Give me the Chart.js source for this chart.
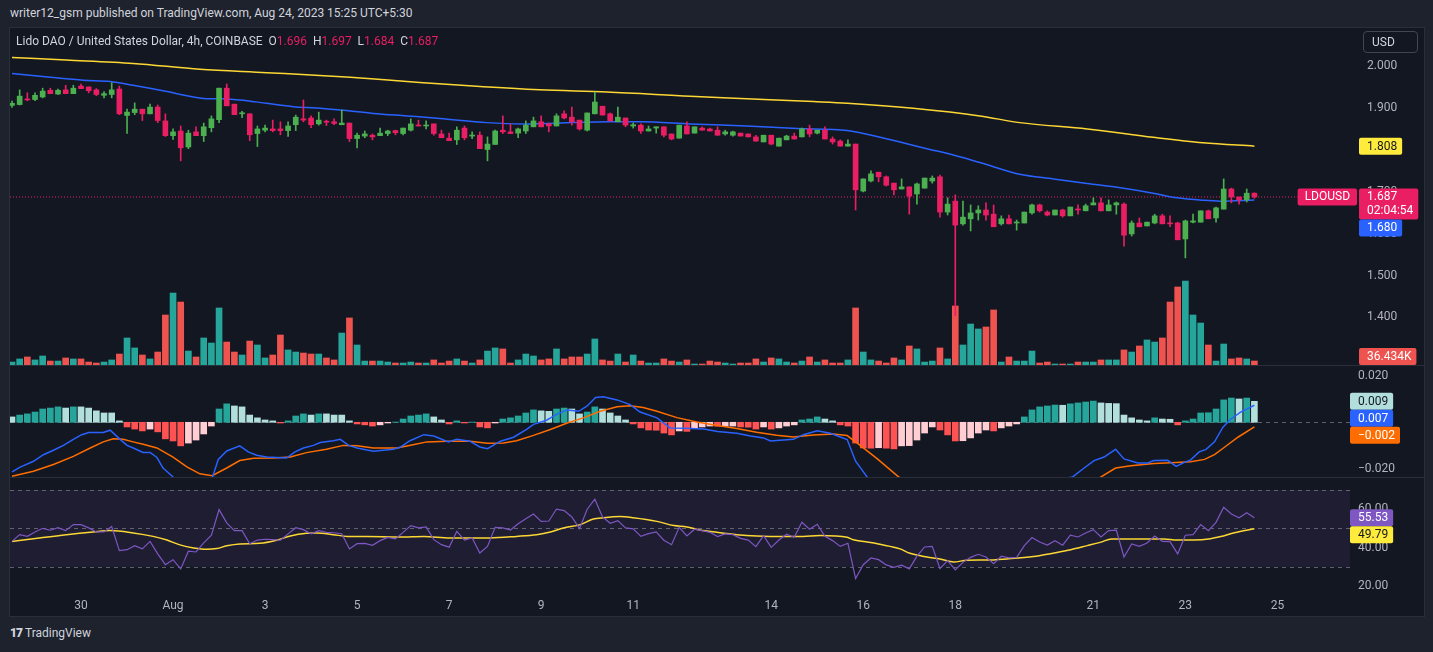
<!DOCTYPE html>
<html>
<head>
<meta charset="utf-8">
<title>LDOUSD 4h - TradingView</title>
<script src="https://cdn.jsdelivr.net/npm/chart.js@4.4.1/dist/chart.umd.min.js"></script>
<style>
    html, body { margin: 0; padding: 0; }
    body {
        width: 1433px; height: 652px; overflow: hidden; position: relative;
        background: #1e222d; color: #d1d4dc;
        font-family: Roboto, "Liberation Sans", sans-serif;
    }
    .published { position: absolute; left: 10px; top: 6px; font-size: 12px; color: #d1d4dc; }
    .frame {
        position: absolute; left: 9px; top: 27px; width: 1416px; height: 590px;
        background: #131722; border: 1px solid #2a2e39; box-sizing: border-box;
    }
    canvas { position: absolute; left: 10px; }
    .sep { position: absolute; left: 10px; width: 1414px; height: 1px; background: #2a2e39; }
    .legend { position: absolute; left: 16px; top: 34px; font-size: 12px; color: #d1d4dc; white-space: pre; }
    .legend .v { color: #e91e63; }
    .usd {
        position: absolute; left: 1363px; top: 31px; width: 55px; height: 22px;
        border: 1px solid #434651; border-radius: 4px; box-sizing: border-box;
        font-size: 12px; line-height: 20px; padding-left: 8px; color: #d1d4dc;
    }
    .brand { position: absolute; left: 10px; top: 626px; font-size: 12px; color: #d1d4dc; }
    .brand b { font-weight: 900; letter-spacing: -1px; margin-right: 3px; }
</style>
</head>
<body>
<div class="published">writer12_gsm published on TradingView.com, Aug 24, 2023 15:25 UTC+5:30</div>
<div class="frame"></div>
<canvas id="mainChart" width="1414" height="337" style="top:28px"></canvas>
<div class="sep" style="top:365px"></div>
<canvas id="macdChart" width="1414" height="111" style="top:366px"></canvas>
<div class="sep" style="top:477px"></div>
<canvas id="rsiChart" width="1414" height="138" style="top:478px"></canvas>
<div class="legend" id="legend"></div>
<div class="usd">USD</div>
<div class="brand"><b>17</b>TradingView</div>

<script>
// LDO/USD 4h candles (COINBASE), index 0 = first visible candle
const opens = [
    1.905,1.907,1.920,1.919,1.925,1.941,1.932,1.942,1.933,1.951,
    1.949,1.942,1.929,1.931,1.944,1.881,1.888,1.896,1.885,1.901,
    1.868,1.833,1.844,1.806,1.842,1.833,1.852,1.871,1.946,1.908,
    1.885,1.885,1.838,1.846,1.849,1.849,1.845,1.859,1.873,1.875,
    1.861,1.867,1.866,1.859,1.863,1.826,1.832,1.834,1.833,1.838,
    1.845,1.838,1.846,1.858,1.856,1.861,1.837,1.827,1.823,1.851,
    1.832,1.834,1.800,1.812,1.846,1.842,1.839,1.844,1.854,1.866,
    1.861,1.856,1.885,1.877,1.870,1.846,1.885,1.903,1.885,1.866,
    1.875,1.856,1.858,1.844,1.851,1.854,1.837,1.827,1.856,1.839,
    1.851,1.849,1.846,1.837,1.834,1.839,1.837,1.830,1.818,1.834,
    1.808,1.823,1.832,1.830,1.849,1.839,1.846,1.825,1.820,1.808,
    1.813,1.701,1.725,1.746,1.735,1.720,1.706,1.711,1.694,1.708,
    1.725,1.735,1.651,1.677,1.623,1.635,1.649,1.656,1.646,1.623,
    1.635,1.625,1.625,1.649,1.668,1.651,1.644,1.656,1.642,1.658,
    1.654,1.668,1.673,1.654,1.668,1.670,1.599,1.625,1.618,1.625,
    1.642,1.625,1.625,1.587,1.627,1.627,1.654,1.637,1.658,1.706,
    1.687,1.680,1.696
];
const highs = [
    1.915,1.942,1.935,1.935,1.946,1.946,1.944,1.953,1.953,1.956,
    1.949,1.945,1.938,1.959,1.951,1.896,1.911,1.896,1.908,1.906,
    1.885,1.849,1.856,1.846,1.854,1.863,1.880,1.946,1.956,1.908,
    1.891,1.885,1.856,1.858,1.870,1.866,1.866,1.882,1.918,1.880,
    1.889,1.870,1.873,1.894,1.863,1.839,1.844,1.837,1.851,1.846,
    1.846,1.851,1.873,1.870,1.868,1.861,1.846,1.839,1.854,1.856,
    1.842,1.842,1.830,1.846,1.880,1.861,1.851,1.868,1.877,1.880,
    1.863,1.885,1.892,1.901,1.870,1.887,1.937,1.903,1.887,1.901,
    1.875,1.863,1.861,1.856,1.854,1.854,1.837,1.858,1.866,1.854,
    1.854,1.851,1.854,1.846,1.844,1.839,1.837,1.834,1.834,1.834,
    1.827,1.834,1.839,1.851,1.858,1.846,1.854,1.830,1.823,1.823,
    1.813,1.730,1.749,1.746,1.737,1.720,1.730,1.711,1.720,1.732,
    1.737,1.739,1.685,1.692,1.677,1.668,1.666,1.673,1.668,1.642,
    1.644,1.632,1.651,1.670,1.670,1.654,1.656,1.658,1.663,1.668,
    1.670,1.685,1.685,1.680,1.675,1.673,1.630,1.637,1.627,1.646,
    1.646,1.642,1.627,1.632,1.646,1.654,1.656,1.663,1.730,1.708,
    1.687,1.706,1.697
];
const lows = [
    1.900,1.906,1.916,1.916,1.923,1.933,1.931,1.933,1.933,1.945,
    1.935,1.928,1.923,1.923,1.883,1.838,1.883,1.869,1.885,1.864,
    1.831,1.824,1.773,1.802,1.833,1.819,1.842,1.864,1.904,1.883,
    1.876,1.821,1.807,1.842,1.842,1.835,1.831,1.845,1.866,1.852,
    1.858,1.857,1.859,1.859,1.819,1.804,1.828,1.823,1.833,1.833,
    1.835,1.835,1.844,1.856,1.849,1.834,1.828,1.821,1.812,1.823,
    1.826,1.802,1.773,1.812,1.838,1.838,1.828,1.838,1.854,1.854,
    1.842,1.856,1.873,1.858,1.846,1.844,1.885,1.882,1.868,1.866,
    1.854,1.851,1.838,1.844,1.839,1.830,1.823,1.827,1.837,1.839,
    1.846,1.844,1.834,1.834,1.832,1.832,1.830,1.820,1.818,1.811,
    1.808,1.823,1.825,1.830,1.830,1.837,1.825,1.813,1.808,1.808,
    1.656,1.699,1.723,1.723,1.713,1.692,1.706,1.646,1.670,1.708,
    1.720,1.639,1.644,1.404,1.620,1.606,1.632,1.632,1.616,1.620,
    1.623,1.608,1.625,1.646,1.651,1.642,1.644,1.639,1.642,1.646,
    1.654,1.668,1.654,1.654,1.646,1.570,1.594,1.616,1.618,1.623,
    1.623,1.616,1.585,1.542,1.625,1.627,1.635,1.627,1.658,1.673,
    1.670,1.675,1.684
];
const closes = [
    1.910,1.927,1.918,1.929,1.939,1.933,1.941,1.933,1.946,1.945,
    1.940,1.931,1.933,1.942,1.885,1.889,1.896,1.885,1.901,1.869,
    1.833,1.842,1.804,1.839,1.833,1.854,1.873,1.946,1.904,1.883,
    1.887,1.835,1.849,1.851,1.845,1.845,1.856,1.877,1.870,1.859,
    1.870,1.865,1.862,1.863,1.826,1.834,1.837,1.830,1.839,1.844,
    1.840,1.851,1.861,1.856,1.858,1.838,1.828,1.821,1.846,1.828,
    1.834,1.802,1.813,1.844,1.842,1.838,1.849,1.858,1.868,1.854,
    1.856,1.880,1.875,1.866,1.849,1.887,1.913,1.882,1.868,1.877,
    1.858,1.859,1.844,1.849,1.854,1.834,1.825,1.858,1.837,1.854,
    1.846,1.844,1.834,1.842,1.842,1.832,1.830,1.820,1.834,1.813,
    1.827,1.832,1.825,1.849,1.837,1.846,1.825,1.818,1.808,1.813,
    1.704,1.730,1.742,1.735,1.715,1.704,1.711,1.689,1.718,1.732,
    1.732,1.651,1.670,1.620,1.639,1.649,1.656,1.644,1.616,1.635,
    1.623,1.627,1.651,1.668,1.654,1.644,1.656,1.642,1.663,1.656,
    1.666,1.673,1.654,1.668,1.673,1.596,1.625,1.616,1.627,1.642,
    1.623,1.623,1.585,1.630,1.630,1.654,1.635,1.661,1.706,1.687,
    1.680,1.696,1.687
];
// volume in thousands
const volumesK = [
    27,55,73,46,82,36,36,64,55,55,
    27,18,27,46,100,246,155,91,55,118,
    455,655,573,127,73,246,200,519,209,118,
    91,218,182,64,91,273,137,118,109,100,
    100,64,46,291,428,182,36,36,36,27,
    18,18,27,18,18,46,18,36,55,36,
    18,46,127,155,146,18,46,100,82,46,
    55,146,55,73,73,100,237,46,36,100,
    27,91,36,18,18,55,36,27,46,9,
    9,36,27,18,9,18,18,55,27,64,
    55,27,18,36,73,27,46,18,18,46,
    519,118,46,36,18,64,46,173,146,27,
    36,155,55,537,182,373,328,346,501,27,
    73,36,36,127,18,27,9,9,9,27,
    27,27,46,46,46,137,118,173,228,209,
    246,573,710,764,455,382,182,36,191,55,
    64,55,36.434
];
// moving averages on price, read as [candle index, value]
const maFastPts = [
    [0,1.981],[5,1.972],[9.3,1.965],[12.8,1.962],[15.8,1.953],[20.2,1.938],[22.3,1.930],
    [25.4,1.921],[27.1,1.921],[29.7,1.918],[33.2,1.910],[36.7,1.902],[39.7,1.899],[42.8,1.894],
    [47.1,1.886],[51.5,1.880],[55.8,1.874],[61.9,1.864],[66.7,1.861],[73.2,1.864],[77.6,1.866],
    [81.9,1.866],[88.4,1.861],[95.8,1.856],[102.4,1.850],[108.9,1.845],[113.2,1.829],[119.7,1.800],
    [121.9,1.791],[126.2,1.769],[131.4,1.741],[135.8,1.730],[140.2,1.719],[144.1,1.710],
    [148.8,1.696],[151.9,1.685],[155.3,1.679],[157.5,1.677],[162,1.680]
];
const maSlowPts = [
    [0,2.019],[7.1,2.013],[15.8,2.005],[24.5,1.991],[33.2,1.983],[44.1,1.972],[51.5,1.962],
    [60.1,1.951],[68.8,1.942],[77.6,1.937],[88.4,1.927],[95.8,1.921],[104.5,1.914],[108.9,1.910],
    [117.5,1.898],[126.2,1.880],[131.4,1.864],[140.2,1.849],[148.8,1.829],[155.3,1.816],[162,1.808]
];

// MACD histogram, one bar per candle
const macdHist = [
    0.0023,0.0031,0.0036,0.0044,0.0057,0.0061,0.0066,0.0061,0.0066,0.0066,
    0.0061,0.0049,0.0040,0.0040,0.0006,-0.0020,-0.0029,-0.0037,-0.0029,-0.0041,
    -0.0071,-0.0080,-0.0101,-0.0089,-0.0076,-0.0050,-0.0016,0.0057,0.0079,0.0070,
    0.0066,0.0031,0.0019,0.0010,0.0006,-0.0003,0.0006,0.0027,0.0036,0.0031,
    0.0036,0.0036,0.0031,0.0031,0.0006,-0.0007,-0.0011,-0.0016,-0.0011,-0.0003,
    0.0001,0.0014,0.0027,0.0031,0.0036,0.0023,0.0010,-0.0007,0.0006,-0.0003,
    0.0001,-0.0020,-0.0024,-0.0003,0.0014,0.0019,0.0027,0.0040,0.0053,0.0049,
    0.0047,0.0057,0.0061,0.0057,0.0036,0.0044,0.0066,0.0057,0.0040,0.0027,
    0.0010,-0.0007,-0.0024,-0.0033,-0.0034,-0.0046,-0.0054,-0.0037,-0.0039,-0.0024,
    -0.0020,-0.0016,-0.0017,-0.0016,-0.0016,-0.0020,-0.0021,-0.0029,-0.0020,-0.0029,
    -0.0024,-0.0016,-0.0011,0.0010,0.0014,0.0023,0.0014,0.0006,-0.0011,-0.0016,
    -0.0089,-0.0110,-0.0111,-0.0109,-0.0111,-0.0114,-0.0101,-0.0100,-0.0076,-0.0046,
    -0.0020,-0.0033,-0.0054,-0.0080,-0.0079,-0.0067,-0.0046,-0.0033,-0.0037,-0.0024,
    -0.0016,-0.0007,0.0023,0.0053,0.0066,0.0070,0.0074,0.0073,0.0079,0.0083,
    0.0087,0.0091,0.0083,0.0081,0.0080,0.0031,0.0019,0.0010,0.0006,0.0019,
    0.0014,0.0013,-0.0011,0.0006,0.0014,0.0040,0.0041,0.0057,0.0096,0.0104,
    0.0100,0.0104,0.0090
];
const macdPts = [
    [0,-0.0213],[1,-0.0193],[2.8,-0.0167],[4.1,-0.0139],[5.4,-0.0120],[6.7,-0.0099],[8,-0.0073],
    [9.1,-0.0053],[10,-0.0044],[11.9,-0.0044],[12.8,-0.0034],[14.1,-0.0073],[15,-0.0099],
    [15.8,-0.0110],[17.1,-0.0129],[18,-0.0129],[18.9,-0.0151],[19.7,-0.0196],[21,-0.0234],
    [22,-0.0279],[23,-0.0284],[24,-0.0289],[25,-0.0274],[26.1,-0.0240],[26.9,-0.0159],
    [28,-0.0123],[29.7,-0.0101],[30.8,-0.0127],[31.9,-0.0141],[33.2,-0.0149],[35.8,-0.0153],
    [36.9,-0.0127],[38,-0.0110],[39.3,-0.0099],[40.2,-0.0087],[41.9,-0.0079],[42.8,-0.0073],
    [43.9,-0.0099],[45,-0.0110],[47.1,-0.0124],[49.7,-0.0116],[50.6,-0.0107],[51.9,-0.0079],
    [53.7,-0.0053],[55,-0.0059],[56.9,-0.0084],[58,-0.0073],[59.7,-0.0081],[61,-0.0106],
    [62,-0.0113],[63.7,-0.0081],[65.4,-0.0064],[67.1,-0.0030],[68,-0.0009],[69.7,0.0009],
    [71,0.0034],[72.4,0.0053],[73.9,0.0047],[75,0.0070],[76.1,0.0106],[77.1,0.0109],
    [78.9,0.0096],[80.6,0.0076],[81.9,0.0044],[84.1,0.0019],[85.8,-0.0024],[87.6,-0.0026],
    [90.2,-0.0029],[92,-0.0039],[94.5,-0.0047],[96.3,-0.0059],[98,-0.0067],[98.9,-0.0080],
    [101.9,-0.0073],[103.2,-0.0053],[105,-0.0036],[106.7,-0.0047],[108.9,-0.0074],[110,-0.0167],
    [111.5,-0.0234],[113,-0.0300],[116,-0.0350],[120,-0.0320],[124,-0.0390],[128,-0.0370],
    [132,-0.0320],[135,-0.0255],[138.3,-0.0234],[139.8,-0.0196],[141.1,-0.0164],[142.4,-0.0149],
    [143.9,-0.0116],[145,-0.0157],[146.8,-0.0174],[148.1,-0.0174],[148.9,-0.0164],[150.7,-0.0163],
    [151.8,-0.0189],[152.8,-0.0173],[153.7,-0.0161],[154.8,-0.0127],[155.7,-0.0116],[156.8,-0.0084],
    [157.9,-0.0021],[158.9,0.0013],[160.2,0.0044],[162,0.0073]
];
const signalPts = [
    [0,-0.0231],[2.8,-0.0210],[5.4,-0.0181],[8,-0.0146],[10.2,-0.0110],[11.9,-0.0084],
    [13.2,-0.0071],[14.5,-0.0073],[15.8,-0.0084],[17.1,-0.0094],[18.9,-0.0110],[21,-0.0149],
    [22.8,-0.0191],[24.5,-0.0221],[26.1,-0.0229],[28,-0.0196],[29.7,-0.0164],[31.5,-0.0154],
    [34.1,-0.0153],[36.3,-0.0149],[38.4,-0.0130],[41,-0.0116],[43.2,-0.0099],[45,-0.0101],
    [47.1,-0.0110],[50.2,-0.0110],[52.3,-0.0096],[54.1,-0.0084],[56.7,-0.0081],[59.7,-0.0081],
    [62,-0.0090],[64.1,-0.0089],[65.8,-0.0079],[68,-0.0056],[70.2,-0.0031],[72.4,-0.0003],
    [74.5,0.0019],[76.7,0.0047],[78.9,0.0067],[80.6,0.0071],[82.3,0.0063],[84.1,0.0047],
    [86.7,0.0020],[89.3,0.0001],[92,-0.0014],[94.5,-0.0027],[97.1,-0.0043],[99.7,-0.0056],
    [101.9,-0.0063],[104.5,-0.0054],[107.1,-0.0050],[108.9,-0.0057],[110.6,-0.0099],
    [112.8,-0.0156],[115.6,-0.0234],[118,-0.0270],[122,-0.0300],[126,-0.0320],[130,-0.0330],
    [135,-0.0320],[139,-0.0290],[142,-0.0234],[143.9,-0.0196],[145.9,-0.0186],[148.9,-0.0177],
    [151.1,-0.0173],[153.7,-0.0169],[155.5,-0.0159],[156.8,-0.0139],[158.1,-0.0107],
    [159.9,-0.0063],[162,-0.0020]
];

// RSI(14), one value per candle, and its moving average
const rsiVals = [
    43.2,46.7,45.8,48.1,50.0,49.0,50.3,48.8,51.9,51.9,
    50.2,48.1,48.1,50.9,38.4,38.9,41.0,39.3,43.2,36.7,
    31.1,33.7,28.9,38.1,37.7,42.4,46.4,59.7,52.8,48.8,
    48.8,42.0,43.9,44.3,44.1,43.8,47.1,50.3,49.3,47.1,
    48.8,47.9,47.7,47.2,39.3,42.0,42.2,41.2,43.6,45.3,
    44.5,47.9,51.4,50.2,50.7,44.1,41.5,40.2,48.4,43.9,
    45.0,37.2,40.6,50.5,50.2,49.1,52.4,55.0,57.4,53.6,
    53.8,60.0,59.2,55.9,49.8,59.9,65.1,55.9,52.6,54.0,
    50.2,49.7,45.8,47.2,48.1,43.8,41.5,50.5,46.0,49.5,
    48.8,47.9,45.7,47.1,46.7,44.8,43.9,40.5,46.2,40.1,
    43.9,46.9,45.3,53.1,49.5,52.1,45.8,43.6,40.6,42.2,
    23.9,31.1,34.6,33.7,31.0,29.7,30.8,28.9,35.5,40.3,
    40.6,29.0,33.2,28.4,32.3,34.9,36.5,35.1,31.6,35.5,
    34.6,34.9,41.0,45.2,42.9,41.3,43.6,41.2,46.4,45.5,
    47.6,49.3,45.5,48.8,49.0,35.1,41.9,40.6,42.4,46.0,
    43.2,43.1,36.7,46.4,46.7,51.9,48.8,53.1,60.9,57.4,
    55.5,58.1,55.53
];
const rsiMaPts = [
    [0,43.2],[2.8,44.6],[7.1,46.7],[10.6,48.1],[12.8,48.8],[15.8,47.6],[18.4,45.8],[20.2,43.9],
    [21.9,41.4],[23.7,39.8],[25.4,39.1],[26.7,39.5],[28,40.9],[29.7,41.9],[32.3,42.2],[34.5,43.8],
    [36.3,46.0],[38.4,47.4],[39.7,47.6],[41.9,46.7],[43.7,45.8],[46.3,45.7],[50.6,45.5],[53.7,45.8],
    [57.1,45.0],[62.3,45.0],[65.8,45.8],[68.4,46.7],[70.2,48.1],[71.9,50.2],[74.1,51.9],[75.8,54.8],
    [77.1,55.5],[79.3,56.1],[81,55.5],[84.1,53.6],[86.3,51.4],[88,50.7],[89.7,49.1],[91.9,47.9],
    [94.5,46.7],[97.1,46.0],[100.6,45.7],[103.2,45.8],[105.4,46.2],[108.9,45.3],[109.7,44.1],
    [112.4,42.4],[114.5,40.6],[115.8,39.3],[117.1,37.0],[119.3,35.1],[121,34.1],[122.8,32.5],
    [124.5,33.4],[127.1,33.5],[129.7,34.1],[133.2,35.3],[135.4,36.8],[137.7,38.6],[140.2,41.0],
    [141.9,42.7],[143.4,44.5],[146.3,44.5],[150.2,44.5],[151.9,43.9],[154.1,43.9],[156.3,44.6],
    [157.6,45.7],[159.4,47.7],[162,49.79]
];

// time axis: candle index of each day label
const dayTickIdx = [9, 21, 33, 45, 57, 69, 81, 99, 111, 123, 141, 153, 165];
const dayLabels = ['30', 'Aug', '3', '5', '7', '9', '11', '14', '16', '18', '21', '23', '25'];

const priceTicks = [1.4, 1.5, 1.6, 1.7, 1.8, 1.9, 2.0];
const macdTicks = [-0.02, 0.02];
const rsiTicks = [20, 40, 60];
const countdown = '02:04:54';

// colours
const UP = '#4caf50', DOWN = '#e91e63';
const VOL_UP = '#26a69a', VOL_DOWN = '#ef5350';
const FONT = 'Roboto, "Liberation Sans", sans-serif';

// pane ranges (value at the top and bottom edge of each pane)
const X_MIN = -0.26, X_MAX = 175.12;
const PRICE_MIN = 1.2869, PRICE_MAX = 2.0893;
const VOL_MAX = 3067;
const MACD_MIN = -0.02345, MACD_MAX = 0.02413;
const RSI_MIN = 14.83, RSI_MAX = 76.13;

Chart.defaults.font.family = FONT;
Chart.defaults.font.size = 12;
Chart.defaults.color = '#b2b5be';

const last = closes.length - 1;
const fmtMinus = (v, d) => (v < 0 ? '\u2212' : '') + Math.abs(v).toFixed(d);
const toXY = pts => pts.map(p => ({ x: p[0], y: p[1] }));

// legend line
document.getElementById('legend').innerHTML =
    'Lido DAO / United States Dollar, 4h, COINBASE  ' +
    'O<span class="v">' + opens[last].toFixed(3) + '</span>  ' +
    'H<span class="v">' + highs[last].toFixed(3) + '</span>  ' +
    'L<span class="v">' + lows[last].toFixed(3) + '</span>  ' +
    'C<span class="v">' + closes[last].toFixed(3) + '</span>';

function xAxis(show) {
    return {
        type: 'linear', min: X_MIN, max: X_MAX, offset: false, display: show,
        grid: { display: false, drawTicks: false }, border: { display: false },
        afterBuildTicks: s => { s.ticks = dayTickIdx.map(v => ({ value: v })); },
        afterFit: s => {
            if (show) s.height = 20;
            s.paddingLeft = 0; s.paddingRight = 0;
        },
        ticks: {
            autoSkip: false, maxRotation: 0, padding: 3, color: '#b2b5be',
            callback: v => dayLabels[dayTickIdx.indexOf(v)]
        }
    };
}

function rightAxis(min, max, ticks, fmt, pad) {
    return {
        position: 'right', min: min, max: max,
        grid: { display: false, drawTicks: false }, border: { display: false },
        afterBuildTicks: s => { s.ticks = ticks.map(v => ({ value: v })); },
        afterFit: s => { s.width = 69; s.paddingTop = 0; s.paddingBottom = 0; },
        ticks: { padding: pad, color: '#b2b5be', callback: fmt }
    };
}

// coloured value labels on the right axis, stacked so they do not overlap
const valueBoxes = {
    id: 'valueBoxes',
    afterDraw(chart, args, opts) {
        const ctx = chart.ctx, area = chart.chartArea;
        const items = opts.items.map(it => {
            const y = chart.scales[it.axis].getPixelForValue(it.value);
            return Object.assign({}, it, { h: it.lines.length * 14 + 3, top: y - 8.5 });
        }).sort((a, b) => a.top - b.top);
        ctx.save();
        ctx.font = '12px ' + FONT;
        ctx.textBaseline = 'middle';
        let prevBottom = -Infinity;
        items.forEach(it => {
            let top = Math.max(it.top, prevBottom);
            if (top + it.h > area.bottom) top = area.bottom - it.h;
            prevBottom = top + it.h;
            const left = area.right + opts.dx;
            const w = Math.max(...it.lines.map(t => ctx.measureText(t).width)) + 13;
            ctx.fillStyle = it.bg;
            ctx.beginPath();
            ctx.roundRect(left, top, w, it.h, 2);
            ctx.fill();
            ctx.fillStyle = it.fg;
            ctx.textAlign = 'left';
            it.lines.forEach((t, k) => ctx.fillText(t, left + 8, top + 9 + k * 14));
            if (it.tag) {
                const tw = ctx.measureText(it.tag).width + 14;
                ctx.fillStyle = it.bg;
                ctx.beginPath();
                ctx.roundRect(area.right + 2 - tw, top, tw, 17, 2);
                ctx.fill();
                ctx.fillStyle = it.fg;
                ctx.fillText(it.tag, area.right + 2 - tw + 7, top + 9);
            }
        });
        ctx.restore();
    }
};

// horizontal dashed guide lines (MACD zero line, RSI bands)
const guides = {
    id: 'guides',
    beforeDatasetsDraw(chart, args, opts) {
        const ctx = chart.ctx, area = chart.chartArea, y = chart.scales.y;
        ctx.save();
        if (opts.band) {
            ctx.fillStyle = 'rgba(126, 87, 194, 0.1)';
            const t = y.getPixelForValue(opts.band[1]), b = y.getPixelForValue(opts.band[0]);
            ctx.fillRect(area.left, t, area.right - 5 - area.left, b - t);
        }
        ctx.strokeStyle = 'rgba(120, 123, 134, 0.75)';
        ctx.lineWidth = 1;
        ctx.setLineDash([4, 4]);
        opts.lines.forEach(v => {
            const py = Math.round(y.getPixelForValue(v)) + 0.5;
            ctx.beginPath();
            ctx.moveTo(area.left, py);
            ctx.lineTo(area.right - 5, py);
            ctx.stroke();
        });
        ctx.restore();
    }
};

const baseOptions = {
    responsive: false, animation: false, events: [],
    layout: { padding: 0 },
    plugins: { legend: { display: false }, tooltip: { enabled: false } }
};

function initializeMainChart() {
    const idx = closes.map((c, i) => i);
    const candleColors = idx.map(i => closes[i] >= opens[i] ? UP : DOWN);
    const volColors = idx.map(i => closes[i] >= opens[i] ? VOL_UP : VOL_DOWN);

    new Chart(document.getElementById('mainChart'), {
        type: 'bar',
        data: {
            datasets: [{
                label: 'Volume', yAxisID: 'yv', order: 10, grouped: false,
                data: idx.map(i => ({ x: i, y: volumesK[i] })),
                backgroundColor: volColors, barThickness: 6
            }, {
                type: 'line', label: 'Last', order: 6,
                data: [{ x: X_MIN, y: closes[last] }, { x: X_MAX, y: closes[last] }],
                borderColor: DOWN, borderWidth: 1, borderDash: [1, 2], pointRadius: 0
            }, {
                type: 'line', label: 'MA slow', order: 5,
                data: toXY(maSlowPts), borderColor: '#fdd835', borderWidth: 1.5,
                pointRadius: 0, cubicInterpolationMode: 'monotone'
            }, {
                type: 'line', label: 'MA fast', order: 4,
                data: toXY(maFastPts), borderColor: '#2962ff', borderWidth: 1.5,
                pointRadius: 0, cubicInterpolationMode: 'monotone'
            }, {
                label: 'Wick', order: 1, grouped: false,
                data: idx.map(i => ({ x: i, y: [lows[i], highs[i]] })),
                backgroundColor: candleColors, barThickness: 1
            }, {
                label: 'Body', order: 0, grouped: false,
                data: idx.map(i => ({ x: i, y: [opens[i], closes[i]] })),
                backgroundColor: candleColors, barThickness: 5, minBarLength: 1
            }]
        },
        options: Object.assign({}, baseOptions, {
            scales: {
                x: xAxis(false),
                y: rightAxis(PRICE_MIN, PRICE_MAX, priceTicks, v => v.toFixed(3), 12),
                yv: { display: false, min: 0, max: VOL_MAX }
            },
            plugins: Object.assign({}, baseOptions.plugins, {
                valueBoxes: {
                    dx: 4,
                    items: [
                        { axis: 'y', value: maSlowPts[maSlowPts.length - 1][1],
                          lines: [maSlowPts[maSlowPts.length - 1][1].toFixed(3)], bg: '#ffeb3b', fg: '#131722' },
                        { axis: 'y', value: closes[last], lines: [closes[last].toFixed(3), countdown],
                          bg: DOWN, fg: '#ffffff', tag: 'LDOUSD' },
                        { axis: 'y', value: maFastPts[maFastPts.length - 1][1],
                          lines: [maFastPts[maFastPts.length - 1][1].toFixed(3)], bg: '#2962ff', fg: '#ffffff' },
                        { axis: 'yv', value: volumesK[last], lines: [volumesK[last].toFixed(3) + 'K'],
                          bg: VOL_DOWN, fg: '#ffffff' }
                    ]
                }
            })
        }),
        plugins: [valueBoxes]
    });
}

function initializeMacdChart() {
    const histColors = macdHist.map((v, i) => {
        const prev = i ? macdHist[i - 1] : v;
        if (v >= 0) return v > prev ? '#26a69a' : '#b2dfdb';
        return v < prev ? '#ff5252' : '#ffcdd2';
    });
    const lastSig = signalPts[signalPts.length - 1][1];
    const lastMacd = macdPts[macdPts.length - 1][1];

    new Chart(document.getElementById('macdChart'), {
        type: 'bar',
        data: {
            datasets: [{
                label: 'Histogram', order: 3, grouped: false,
                data: macdHist.map((v, i) => ({ x: i, y: v })),
                backgroundColor: histColors, barThickness: 6
            }, {
                type: 'line', label: 'Signal', order: 1,
                data: toXY(signalPts), borderColor: '#ff6d00', borderWidth: 1.5, pointRadius: 0
            }, {
                type: 'line', label: 'MACD', order: 0,
                data: toXY(macdPts), borderColor: '#2962ff', borderWidth: 1.5, pointRadius: 0
            }]
        },
        options: Object.assign({}, baseOptions, {
            scales: {
                x: xAxis(false),
                y: rightAxis(MACD_MIN, MACD_MAX, macdTicks, v => fmtMinus(v, 3), 3)
            },
            plugins: Object.assign({}, baseOptions.plugins, {
                guides: { lines: [0] },
                valueBoxes: {
                    dx: -5,
                    items: [
                        { axis: 'y', value: macdHist[last], lines: [fmtMinus(macdHist[last], 3)], bg: '#b2dfdb', fg: '#131722' },
                        { axis: 'y', value: lastMacd, lines: [fmtMinus(lastMacd, 3)], bg: '#2962ff', fg: '#ffffff' },
                        { axis: 'y', value: lastSig, lines: [fmtMinus(lastSig, 3)], bg: '#ff6d00', fg: '#ffffff' }
                    ]
                }
            })
        }),
        plugins: [guides, valueBoxes]
    });
}

function initializeRsiChart() {
    const lastMa = rsiMaPts[rsiMaPts.length - 1][1];

    new Chart(document.getElementById('rsiChart'), {
        type: 'line',
        data: {
            datasets: [{
                label: 'RSI MA', order: 1,
                data: toXY(rsiMaPts), borderColor: '#fdd835', borderWidth: 1.5,
                pointRadius: 0, cubicInterpolationMode: 'monotone'
            }, {
                label: 'RSI', order: 0,
                data: rsiVals.map((v, i) => ({ x: i, y: v })), borderColor: '#7e57c2',
                borderWidth: 1.2, pointRadius: 0
            }]
        },
        options: Object.assign({}, baseOptions, {
            scales: {
                x: xAxis(true),
                y: rightAxis(RSI_MIN, RSI_MAX, rsiTicks, v => v.toFixed(2), 3)
            },
            plugins: Object.assign({}, baseOptions.plugins, {
                guides: { lines: [70, 50, 30], band: [30, 70] },
                valueBoxes: {
                    dx: -5,
                    items: [
                        { axis: 'y', value: rsiVals[last], lines: [rsiVals[last].toFixed(2)], bg: '#7e57c2', fg: '#ffffff' },
                        { axis: 'y', value: lastMa, lines: [lastMa.toFixed(2)], bg: '#ffeb3b', fg: '#131722' }
                    ]
                }
            })
        }),
        plugins: [guides, valueBoxes]
    });
}

initializeMainChart();
initializeMacdChart();
initializeRsiChart();
</script>
</body>
</html>
